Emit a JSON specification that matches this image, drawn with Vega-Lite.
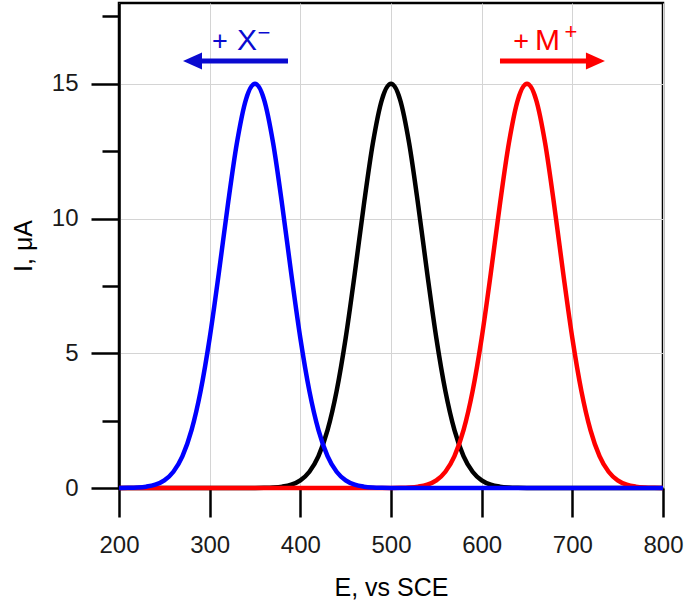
{
  "$schema": "https://vega.github.io/schema/vega-lite/v6.json",
  "width": 544,
  "height": 485,
  "autosize": {"type": "none"},
  "padding": {"left": 119, "top": 3, "right": 22, "bottom": 122},
  "background": "white",
  "datasets": {
    "black": [
      {"E": 200, "I": 0}, {"E": 350, "I": 0.002}, {"E": 360, "I": 0.006}, {"E": 370, "I": 0.018}, {"E": 380, "I": 0.05},
      {"E": 390, "I": 0.123}, {"E": 400, "I": 0.284}, {"E": 410, "I": 0.603}, {"E": 420, "I": 1.184}, {"E": 430, "I": 2.147},
      {"E": 440, "I": 3.596}, {"E": 450, "I": 5.563}, {"E": 460, "I": 7.951}, {"E": 470, "I": 10.496}, {"E": 480, "I": 12.799},
      {"E": 490, "I": 14.417}, {"E": 500, "I": 15}, {"E": 510, "I": 14.417}, {"E": 520, "I": 12.799}, {"E": 530, "I": 10.496},
      {"E": 540, "I": 7.951}, {"E": 550, "I": 5.563}, {"E": 560, "I": 3.596}, {"E": 570, "I": 2.147}, {"E": 580, "I": 1.184},
      {"E": 590, "I": 0.603}, {"E": 600, "I": 0.284}, {"E": 610, "I": 0.123}, {"E": 620, "I": 0.05}, {"E": 630, "I": 0.018},
      {"E": 640, "I": 0.006}, {"E": 650, "I": 0.002}, {"E": 800, "I": 0}
    ],
    "red": [
      {"E": 200, "I": 0}, {"E": 500, "I": 0.002}, {"E": 510, "I": 0.006}, {"E": 520, "I": 0.018}, {"E": 530, "I": 0.05},
      {"E": 540, "I": 0.123}, {"E": 550, "I": 0.284}, {"E": 560, "I": 0.603}, {"E": 570, "I": 1.184}, {"E": 580, "I": 2.147},
      {"E": 590, "I": 3.596}, {"E": 600, "I": 5.563}, {"E": 610, "I": 7.951}, {"E": 620, "I": 10.496}, {"E": 630, "I": 12.799},
      {"E": 640, "I": 14.417}, {"E": 650, "I": 15}, {"E": 660, "I": 14.417}, {"E": 670, "I": 12.799}, {"E": 680, "I": 10.496},
      {"E": 690, "I": 7.951}, {"E": 700, "I": 5.563}, {"E": 710, "I": 3.596}, {"E": 720, "I": 2.147}, {"E": 730, "I": 1.184},
      {"E": 740, "I": 0.603}, {"E": 750, "I": 0.284}, {"E": 760, "I": 0.123}, {"E": 770, "I": 0.05}, {"E": 780, "I": 0.018},
      {"E": 790, "I": 0.006}, {"E": 800, "I": 0.002}
    ],
    "blue": [
      {"E": 200, "I": 0.002}, {"E": 210, "I": 0.006}, {"E": 220, "I": 0.018}, {"E": 230, "I": 0.05},
      {"E": 240, "I": 0.123}, {"E": 250, "I": 0.284}, {"E": 260, "I": 0.603}, {"E": 270, "I": 1.184}, {"E": 280, "I": 2.147},
      {"E": 290, "I": 3.596}, {"E": 300, "I": 5.563}, {"E": 310, "I": 7.951}, {"E": 320, "I": 10.496}, {"E": 330, "I": 12.799},
      {"E": 340, "I": 14.417}, {"E": 350, "I": 15}, {"E": 360, "I": 14.417}, {"E": 370, "I": 12.799}, {"E": 380, "I": 10.496},
      {"E": 390, "I": 7.951}, {"E": 400, "I": 5.563}, {"E": 410, "I": 3.596}, {"E": 420, "I": 2.147}, {"E": 430, "I": 1.184},
      {"E": 440, "I": 0.603}, {"E": 450, "I": 0.284}, {"E": 460, "I": 0.123}, {"E": 470, "I": 0.05}, {"E": 480, "I": 0.018},
      {"E": 490, "I": 0.006}, {"E": 500, "I": 0.002}, {"E": 800, "I": 0}
    ],
    "arrows": [
      {"ion": "anion", "E1": 285, "E2": 386.4, "I": 15.85},
      {"ion": "cation", "E1": 620.2, "E2": 724, "I": 15.85}
    ],
    "heads": [
      {"ion": "anion", "E": 281.1, "I": 15.85},
      {"ion": "cation", "E": 725.5, "I": 15.85}
    ],
    "big": [
      {"ion": "anion", "E": 341.2, "I": 16.26, "t": "X"},
      {"ion": "cation", "E": 672.6, "I": 16.24, "t": "M"}
    ],
    "plus": [
      {"ion": "anion", "E": 311.4, "I": 16.26, "t": "+"},
      {"ion": "cation", "E": 643.4, "I": 16.26, "t": "+"}
    ],
    "sup": [
      {"ion": "anion", "E": 359.9, "I": 16.61, "t": "−"},
      {"ion": "cation", "E": 698.5, "I": 16.65, "t": "+"}
    ]
  },
  "layer": [
    {
      "data": {"name": "black"},
      "mark": {"type": "line", "interpolate": "monotone", "strokeWidth": 4.5, "color": "black"},
      "encoding": {
        "x": {
          "field": "E", "type": "quantitative",
          "scale": {"domain": [200, 800], "nice": false, "zero": false},
          "axis": {
            "values": [200, 300, 400, 500, 600, 700, 800],
            "title": "E, vs SCE",
            "tickSize": 29, "tickWidth": 2.5, "tickColor": "black",
            "domainColor": "black", "domainWidth": 2.5,
            "labelFont": "Liberation Sans", "labelFontSize": 24, "labelColor": "#1a1a1a",
            "labelPadding": 16, "labelFlush": false, "labelOverlap": false,
            "titleFont": "Liberation Sans", "titleFontSize": 25, "titleFontWeight": "normal", "titleColor": "black",
            "titlePadding": 18,
            "grid": true, "gridColor": "#d4d4d4", "gridWidth": 1
          }
        },
        "y": {
          "field": "I", "type": "quantitative",
          "scale": {"domain": [0, 18], "nice": false},
          "axis": {
            "values": [0, 2.5, 5, 7.5, 10, 12.5, 15, 17.5],
            "labelExpr": "datum.value % 5 === 0 ? datum.label : ''",
            "title": "I, μA",
            "tickSize": {"condition": {"test": "datum.value % 5 === 0", "value": 28}, "value": 17},
            "tickWidth": 2.5, "tickColor": "black",
            "domainColor": "black", "domainWidth": 2.5,
            "labelFont": "Liberation Sans", "labelFontSize": 24, "labelColor": "#1a1a1a",
            "labelPadding": 13, "labelOverlap": false,
            "titleFont": "Liberation Sans", "titleFontSize": 25, "titleFontWeight": "normal", "titleColor": "black",
            "titlePadding": 15,
            "grid": true, "gridColor": "#d4d4d4", "gridWidth": 1,
            "gridOpacity": {"condition": {"test": "datum.value % 5 === 0", "value": 1}, "value": 0}
          }
        }
      }
    },
    {
      "data": {"name": "red"},
      "mark": {"type": "line", "interpolate": "monotone", "strokeWidth": 4.5, "color": "#ff0000"},
      "encoding": {"x": {"field": "E", "type": "quantitative"}, "y": {"field": "I", "type": "quantitative"}}
    },
    {
      "data": {"name": "blue"},
      "mark": {"type": "line", "interpolate": "monotone", "strokeWidth": 4.5, "color": "#0000ff"},
      "encoding": {"x": {"field": "E", "type": "quantitative"}, "y": {"field": "I", "type": "quantitative"}}
    },
    {
      "data": {"name": "arrows"},
      "mark": {"type": "rule", "strokeWidth": 5, "strokeCap": "butt"},
      "encoding": {
        "x": {"field": "E1", "type": "quantitative"},
        "x2": {"field": "E2"},
        "y": {"field": "I", "type": "quantitative"},
        "color": {"field": "ion", "type": "nominal", "scale": {"domain": ["anion", "cation"], "range": ["#0a0ad0", "#ff0000"]}, "legend": null}
      }
    },
    {
      "data": {"name": "heads"},
      "transform": [{"filter": "datum.ion === 'anion'"}],
      "mark": {"type": "point", "filled": true, "opacity": 1, "size": 361, "shape": "M-1,0L1,-0.9L1,0.9Z", "strokeWidth": 0},
      "encoding": {
        "x": {"field": "E", "type": "quantitative"},
        "y": {"field": "I", "type": "quantitative"},
        "color": {"field": "ion", "type": "nominal", "legend": null}
      }
    },
    {
      "data": {"name": "heads"},
      "transform": [{"filter": "datum.ion === 'cation'"}],
      "mark": {"type": "point", "filled": true, "opacity": 1, "size": 361, "shape": "M1,0L-1,-0.9L-1,0.9Z", "strokeWidth": 0},
      "encoding": {
        "x": {"field": "E", "type": "quantitative"},
        "y": {"field": "I", "type": "quantitative"},
        "color": {"field": "ion", "type": "nominal", "legend": null}
      }
    },
    {
      "data": {"name": "big"},
      "mark": {"type": "text", "font": "Liberation Sans", "fontSize": 30, "align": "center", "baseline": "alphabetic"},
      "encoding": {
        "x": {"field": "E", "type": "quantitative"},
        "y": {"field": "I", "type": "quantitative"},
        "text": {"field": "t"},
        "color": {"field": "ion", "type": "nominal", "legend": null}
      }
    },
    {
      "data": {"name": "plus"},
      "mark": {"type": "text", "font": "Liberation Sans", "fontSize": 27, "align": "center", "baseline": "alphabetic"},
      "encoding": {
        "x": {"field": "E", "type": "quantitative"},
        "y": {"field": "I", "type": "quantitative"},
        "text": {"field": "t"},
        "color": {"field": "ion", "type": "nominal", "legend": null}
      }
    },
    {
      "data": {"name": "sup"},
      "mark": {"type": "text", "font": "Liberation Sans", "fontSize": 22, "align": "center", "baseline": "alphabetic"},
      "encoding": {
        "x": {"field": "E", "type": "quantitative"},
        "y": {"field": "I", "type": "quantitative"},
        "text": {"field": "t"},
        "color": {"field": "ion", "type": "nominal", "legend": null}
      }
    }
  ],
  "config": {
    "view": {"stroke": "black", "strokeWidth": 2.5}
  }
}
